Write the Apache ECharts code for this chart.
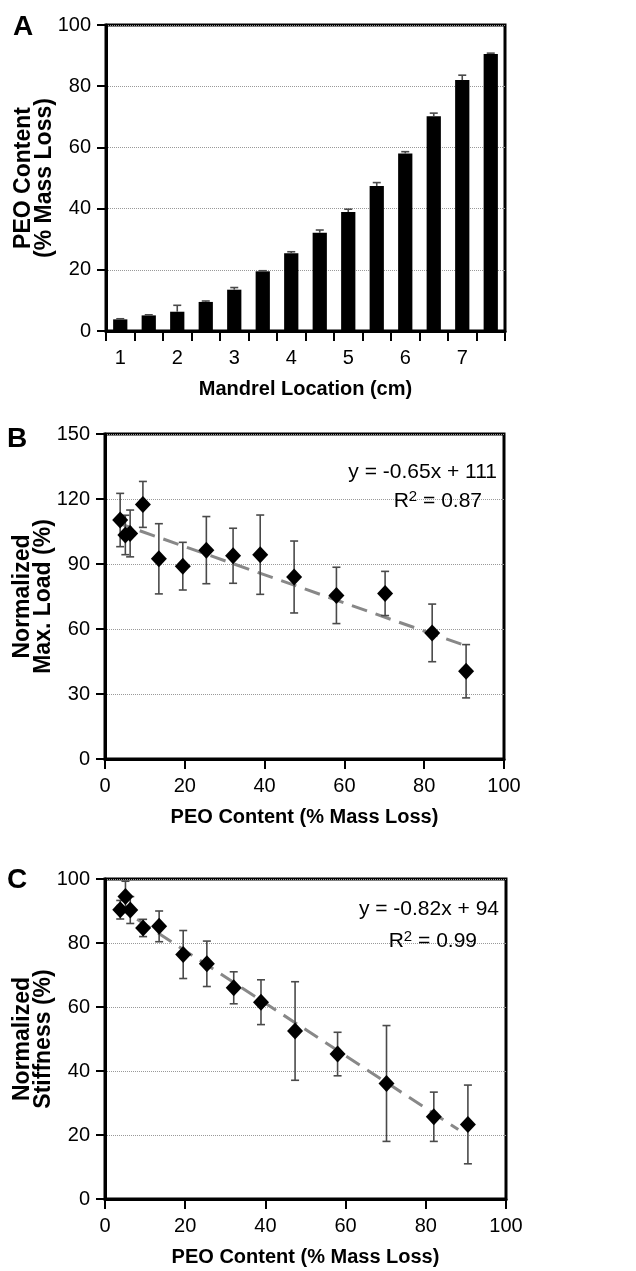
<!DOCTYPE html>
<html><head><meta charset="utf-8">
<script src="https://cdn.jsdelivr.net/npm/echarts@6/dist/echarts.min.js"></script>
<style>html,body{margin:0;padding:0;background:#fff}#c{width:636px;height:1271px}</style>
</head><body><div id="c"></div>
<script>
// ---- data ----
const mandrelCategories = ['1','1.5','2','2.5','3','3.5','4','4.5','5','5.5','6','6.5','7','7.5'];
const peoContent = [3.8,5.1,6.3,9.5,13.5,19.5,25.4,32.1,38.9,47.4,58.0,70.2,82.0,90.5];
const peoError = [0.2,0.2,2.1,0.3,0.7,0.2,0.5,0.9,0.9,1.1,0.6,1.0,1.6,0.3];
const maxLoad = [110.3,103.4,104.1,117.5,92.4,89.0,96.4,93.8,94.3,84.0,75.5,76.4,58.2,40.5];
const maxLoadError = [12.3,9.1,10.8,10.6,16.2,11.0,15.5,12.7,18.3,16.6,13.0,10.2,13.3,12.3];
const stiffness = [90.4,94.5,90.3,84.7,85.2,76.4,73.5,66.0,61.5,52.5,45.3,36.1,25.7,23.3];
const stiffnessError = [2.9,4.8,4.2,2.7,4.8,7.5,7.1,5.0,7.0,15.4,6.8,18.1,7.7,12.3];
const trendLoadX = [2.8, 89.3];
const trendLoadY = [109.2, 53.0];
const trendStiffX = [2.8, 88.1];
const trendStiffY = [91.7, 21.7];
const yTicksA = [0,20,40,60,80,100];
const yTicksB = [0,30,60,90,120,150];
const yTicksC = [0,20,40,60,80,100];
const xTicksBC = [0,20,40,60,80,100];
const eqLoad = 'y = -0.65x + 111';
const r2Load = '0.87';
const eqStiff = 'y = -0.82x + 94';
const r2Stiff = '0.99';

// ---- styles ----
const FN = "'Liberation Sans',Arial,sans-serif";
const tickFont = {fontFamily: FN, fontSize: 20, color: '#000'};
const nameFont = {fontFamily: FN, fontSize: 20, fontWeight: 'bold', color: '#000', lineHeight: 21};
const yNameFont = {fontFamily: FN, fontSize: 23, fontWeight: 'bold', color: '#000', lineHeight: 21};

function valueAxis(ticks, extra) {
  return Object.assign({
    type: 'value', min: ticks[0], max: ticks[ticks.length-1], interval: ticks[1]-ticks[0],
    axisLine: {show: true, lineStyle: {color: '#000', width: 3}},
    axisTick: {show: true, length: 9, lineStyle: {color: '#000', width: 2}},
    axisLabel: Object.assign({margin: 15}, tickFont),
    splitLine: {show: false},
    nameMoveOverlap: false,
    nameTextStyle: nameFont
  }, extra || {});
}
const gridSplit = {show: true, lineStyle: {type: 'dotted', color: '#999', width: 1}};

function errRender(upOnly) {
  return function (params, api) {
    const x = api.value(0), y = api.value(1), e = api.value(2);
    const top = api.coord([x, y + e]);
    const bot = api.coord(upOnly ? [x, y] : [x, y - e]);
    const h = 4;
    const st = {stroke: '#4a4a4a', lineWidth: 1.6};
    const children = [
      {type: 'line', shape: {x1: top[0], y1: top[1], x2: bot[0], y2: bot[1]}, style: st},
      {type: 'line', shape: {x1: top[0]-h, y1: top[1], x2: top[0]+h, y2: top[1]}, style: st}
    ];
    if (!upOnly) children.push({type: 'line', shape: {x1: bot[0]-h, y1: bot[1], x2: bot[0]+h, y2: bot[1]}, style: st});
    return {type: 'group', children: children};
  };
}

const grids = [
  {left: 106, top: 25, width: 399, height: 306},
  {left: 105, top: 434, width: 399, height: 325},
  {left: 105, top: 879, width: 401, height: 320}
].map(g => Object.assign(g, {show: true, borderColor: '#000', borderWidth: 3, backgroundColor: 'transparent',
  containLabel: false, outerBoundsMode: 'none'}));

const yNameCommon = {nameLocation: 'middle', nameRotate: 90, nameGap: 51, nameTextStyle: yNameFont};
const diamondStyle = {color: '#000', opacity: 1};

const option = {
  animation: false,
  backgroundColor: '#fff',
  grid: grids,
  xAxis: [
    {type: 'category', gridIndex: 0, data: mandrelCategories,
      axisLine: {lineStyle: {color: '#000', width: 3}},
      axisTick: {show: true, interval: 0, length: 10, lineStyle: {color: '#000', width: 2}},
      axisLabel: Object.assign({interval: 1, margin: 17}, tickFont),
      nameMoveOverlap: false,
      name: 'Mandrel Location (cm)', nameLocation: 'middle', nameGap: 48, nameTextStyle: nameFont},
    valueAxis(xTicksBC, {gridIndex: 1, axisTick: {show: true, length: 10, lineStyle: {color: '#000', width: 2}},
      axisLabel: Object.assign({margin: 17}, tickFont),
      name: 'PEO Content (% Mass Loss)', nameLocation: 'middle', nameGap: 48}),
    valueAxis(xTicksBC, {gridIndex: 2, axisTick: {show: true, length: 10, lineStyle: {color: '#000', width: 2}},
      axisLabel: Object.assign({margin: 17}, tickFont),
      name: 'PEO Content (% Mass Loss)', nameLocation: 'middle', nameGap: 48})
  ],
  yAxis: [
    valueAxis(yTicksA, Object.assign({gridIndex: 0, splitLine: gridSplit, name: 'PEO Content\n(% Mass Loss)'}, yNameCommon)),
    valueAxis(yTicksB, Object.assign({gridIndex: 1, splitLine: gridSplit, name: 'Normalized\nMax. Load (%)'}, yNameCommon)),
    valueAxis(yTicksC, Object.assign({gridIndex: 2, splitLine: gridSplit, name: 'Normalized\nStiffness (%)'}, yNameCommon))
  ],
  series: [
    {type: 'bar', xAxisIndex: 0, yAxisIndex: 0, data: peoContent, barWidth: '50%', itemStyle: {color: '#000'}, z: 3},
    {type: 'custom', xAxisIndex: 0, yAxisIndex: 0, renderItem: errRender(true),
      data: peoContent.map((v, i) => [i, v, peoError[i]]), z: 4},
    {type: 'line', xAxisIndex: 1, yAxisIndex: 1, data: trendLoadX.map((x, i) => [x, trendLoadY[i]]),
      symbol: 'none', lineStyle: {color: '#888', width: 3, type: [16, 9]}, z: 2},
    {type: 'custom', xAxisIndex: 1, yAxisIndex: 1, renderItem: errRender(false),
      data: peoContent.map((x, i) => [x, maxLoad[i], maxLoadError[i]]), z: 3},
    {type: 'scatter', xAxisIndex: 1, yAxisIndex: 1, data: peoContent.map((x, i) => [x, maxLoad[i]]),
      symbol: 'diamond', symbolSize: [16, 17], itemStyle: diamondStyle, z: 4},
    {type: 'line', xAxisIndex: 2, yAxisIndex: 2, data: trendStiffX.map((x, i) => [x, trendStiffY[i]]),
      symbol: 'none', lineStyle: {color: '#888', width: 3, type: [16, 9]}, z: 2},
    {type: 'custom', xAxisIndex: 2, yAxisIndex: 2, renderItem: errRender(false),
      data: peoContent.map((x, i) => [x, stiffness[i], stiffnessError[i]]), z: 3},
    {type: 'scatter', xAxisIndex: 2, yAxisIndex: 2, data: peoContent.map((x, i) => [x, stiffness[i]]),
      symbol: 'diamond', symbolSize: [16, 17], itemStyle: diamondStyle, z: 4}
  ],
  graphic: [
    {type: 'text', left: 13, top: 13, style: {text: 'A', fontFamily: FN, fontSize: 28, fontWeight: 'bold', fill: '#000'}},
    {type: 'text', left: 7, top: 425, style: {text: 'B', fontFamily: FN, fontSize: 28, fontWeight: 'bold', fill: '#000'}},
    {type: 'text', left: 7, top: 866, style: {text: 'C', fontFamily: FN, fontSize: 28, fontWeight: 'bold', fill: '#000'}},
    {type: 'text', right: 139, top: 462, z: 10, style: {text: eqLoad, fontFamily: FN, fontSize: 21, fill: '#000'}},
    {type: 'text', right: 154, top: 489, z: 10, style: {text: 'R{s|2} = ' + r2Load, fontFamily: FN, fontSize: 21, fill: '#000',
      rich: {s: {fontFamily: FN, fontSize: 15, verticalAlign: 'top', padding: [0, 0, 10, 0]}}}},
    {type: 'text', right: 137, top: 899, z: 10, style: {text: eqStiff, fontFamily: FN, fontSize: 21, fill: '#000'}},
    {type: 'text', right: 159, top: 929, z: 10, style: {text: 'R{s|2} = ' + r2Stiff, fontFamily: FN, fontSize: 21, fill: '#000',
      rich: {s: {fontFamily: FN, fontSize: 15, verticalAlign: 'top', padding: [0, 0, 10, 0]}}}}
  ]
};
const chart = echarts.init(document.getElementById('c'), null, {renderer: 'canvas'});
chart.setOption(option);
</script></body></html>
